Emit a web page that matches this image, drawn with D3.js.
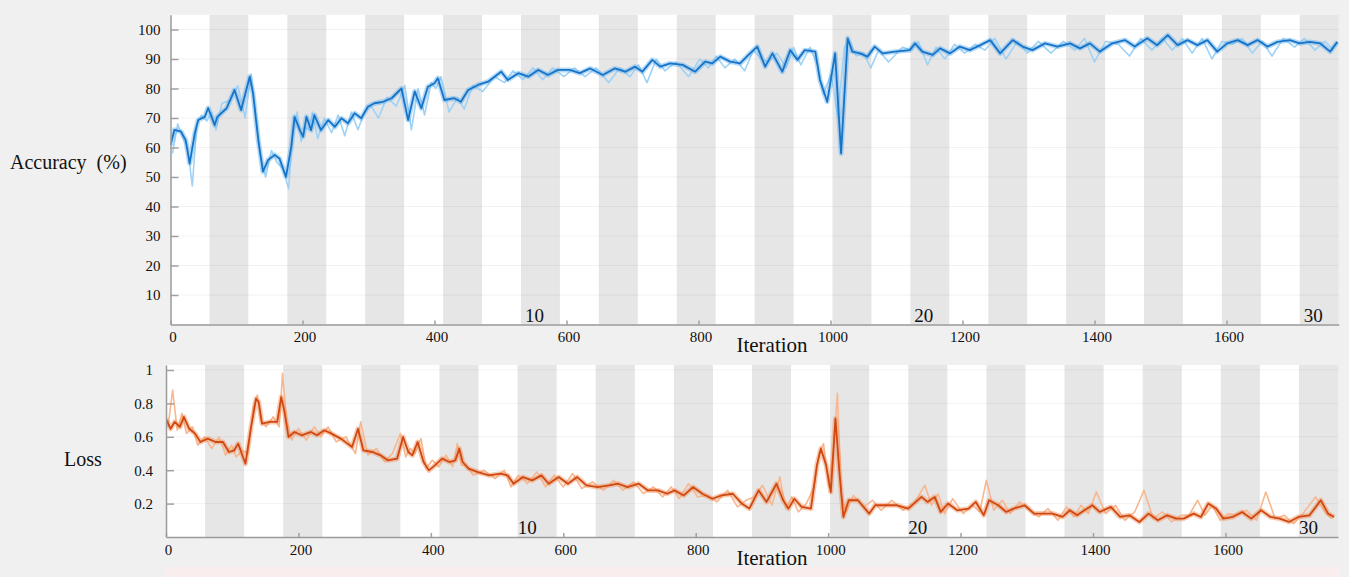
<!DOCTYPE html>
<html>
<head>
<meta charset="utf-8">
<script src="https://cdnjs.cloudflare.com/ajax/libs/d3/7.8.5/d3.min.js"></script>
<style>
  body { margin: 0; background: #f0f0f0; }
  svg { display: block; font-family: "Liberation Serif", "Times New Roman", serif; }
</style>
</head>
<body>
<div id="chart"></div>
<script>
// ---- data ----
const itersPerEpoch = 59;
const epochCount = 30;
const epochLabels = [10, 20, 30];
const iterTicks = [0, 200, 400, 600, 800, 1000, 1200, 1400, 1600];
const accTicks = [10, 20, 30, 40, 50, 60, 70, 80, 90, 100];
const lossTicks = [0.2, 0.4, 0.6, 0.8, 1];

// accuracy, smoothed
const accIter = [
  0, 6, 16, 23, 29, 37, 42, 52, 57, 67,
  71, 85, 97, 107, 120, 125, 133, 140, 148, 158,
  165, 175, 183, 188, 196, 201, 206, 213, 218, 228,
  239, 249, 259, 269, 279, 289, 299, 309, 322, 335,
  350, 360, 370, 380, 390, 400, 405, 415, 430, 440,
  451, 466, 481, 501, 511, 527, 542, 557, 572, 587,
  605, 620, 636, 655, 673, 689, 704, 715, 730, 742,
  757, 776, 795, 810, 821, 833, 848, 863, 878, 889,
  901, 912, 927, 939, 950, 961, 977, 984, 995, 1007,
  1016, 1026, 1033, 1045, 1056, 1067, 1079, 1098, 1120, 1128,
  1139, 1155, 1166, 1181, 1196, 1211, 1227, 1242, 1257, 1276,
  1291, 1306, 1325, 1344, 1363, 1378, 1393, 1408, 1427, 1446,
  1461, 1480, 1495, 1511, 1526, 1541, 1556, 1571, 1586, 1601,
  1617, 1632, 1647, 1662, 1677, 1696, 1711, 1726, 1742, 1757,
  1768
];
const accSmooth = [
  60.8, 66, 65.4, 62.5, 54.6, 65, 69.3, 70.4, 73.4, 67.6,
  70.4, 73.3, 79.5, 72.7, 84, 78.4, 62.5, 51.8, 55.8, 57.5,
  56.3, 50.1, 60.3, 70.4, 65.9, 63.7, 70.4, 65.9, 71, 65.9,
  69.3, 67, 69.9, 68.2, 71.6, 69.9, 73.8, 75, 75.5, 76.7,
  80, 69.3, 79, 73.3, 80.6, 81.8, 83.5, 76.1, 76.7, 75.5,
  79.5, 81.2, 82.3, 85.7, 82.9, 85.2, 84, 86.3, 84.6, 86.3,
  86.3, 85.2, 86.8, 84.6, 86.8, 85.7, 87.4, 85.7, 89.7, 87.4,
  88.5, 88, 85.7, 89.1, 88.5, 90.8, 89.1, 88.5, 91.9, 94.2,
  87.4, 91.9, 85.7, 93, 89.7, 93, 92.5, 82.9, 75.5, 91.9,
  58, 97, 92.5, 91.9, 90.8, 94.2, 91.9, 92.5, 93, 95.3,
  92.5, 91.4, 93.6, 91.9, 94.2, 93, 94.7, 96.4, 91.9, 96.4,
  94.2, 93, 95.3, 94.2, 95.3, 93.6, 95.3, 92.5, 95.3, 96.4,
  94.2, 97, 94.7, 98.1, 94.7, 96.4, 94.7, 96.4, 92.5, 95.3,
  96.4, 94.7, 96.4, 94.2, 95.8, 96.4, 95.3, 95.8, 95.3, 92.5,
  95.8
];

// accuracy, raw mini-batch
const accRawIter = [
  3, 11, 19, 26, 33, 40, 47, 55, 62, 69,
  78, 91, 102, 113, 122, 129, 136, 144, 153, 161,
  170, 179, 185, 192, 198, 203, 209, 215, 223, 233,
  244, 254, 264, 274, 284, 294, 304, 315, 328, 342,
  355, 365, 375, 385, 395, 402, 410, 422, 435, 445,
  458, 473, 491, 506, 519, 534, 549, 564, 579, 596,
  612, 628, 645, 664, 681, 696, 709, 722, 736, 749,
  766, 785, 802, 815, 827, 840, 855, 870, 883, 895,
  906, 919, 933, 944, 955, 969, 980, 989, 1001, 1011,
  1021, 1029, 1039, 1050, 1061, 1073, 1088, 1109, 1124, 1133,
  1147, 1160, 1173, 1188, 1203, 1219, 1234, 1249, 1266, 1283,
  1298, 1315, 1334, 1353, 1370, 1385, 1400, 1417, 1436, 1453,
  1470, 1487, 1503, 1518, 1533, 1548, 1563, 1578, 1593, 1609,
  1624, 1639, 1654, 1669, 1686, 1703, 1718, 1734, 1749, 1762
];
const accRaw = [
  58, 68, 63, 60, 47, 68, 71, 69, 72, 66,
  75, 76, 81, 70, 85, 72, 58, 50, 59, 55,
  53, 46, 64, 72, 62, 67, 66, 72, 63, 70,
  65, 71, 64, 72, 66, 72, 74, 70, 77, 74,
  81, 66, 80, 71, 82, 80, 84, 72, 77, 73,
  81, 79, 84, 82, 86, 83, 87, 83, 87, 84,
  87, 84, 87, 82, 87, 84, 88, 82, 90, 86,
  89, 84, 90, 87, 91, 87, 90, 86, 93, 90,
  89, 92, 87, 94, 88, 94, 88, 78, 85, 70,
  94, 96, 91, 92, 87, 93, 89, 94, 93, 96,
  88, 94, 90, 95, 92, 95, 93, 97, 90, 96,
  92, 96, 92, 96, 93, 97, 89, 96, 95, 91,
  97, 93, 97, 93, 97, 92, 97, 90, 96, 95,
  97, 92, 96, 91, 97, 94, 97, 93, 96, 93
];

// loss, smoothed
const lossIter = [
  0, 7, 13, 21, 27, 35, 44, 52, 63, 75,
  86, 95, 103, 109, 120, 128, 136, 140, 145, 157,
  168, 174, 179, 185, 194, 205, 219, 228, 239, 250,
  264, 281, 290, 298, 312, 324, 335, 349, 358, 366,
  372, 380, 389, 397, 406, 417, 428, 437, 443, 448,
  457, 471, 488, 505, 516, 525, 539, 553, 567, 578,
  593, 607, 621, 635, 652, 669, 683, 697, 714, 728,
  743, 757, 768, 782, 796, 810, 825, 839, 856, 870,
  881, 895, 907, 922, 932, 940, 949, 960, 974, 983,
  989, 997, 1004, 1011, 1017, 1023, 1031, 1045, 1062, 1071,
  1088, 1104, 1121, 1141, 1150, 1161, 1170, 1181, 1195, 1212,
  1223, 1235, 1243, 1257, 1269, 1280, 1297, 1311, 1325, 1339,
  1354, 1365, 1376, 1387, 1399, 1410, 1427, 1441, 1455, 1470,
  1484, 1498, 1512, 1526, 1537, 1552, 1563, 1574, 1586, 1597,
  1611, 1625, 1639, 1654, 1668, 1682, 1696, 1710, 1727, 1744,
  1755, 1764
];
const lossSmooth = [
  0.708, 0.648, 0.689, 0.659, 0.719, 0.648, 0.619, 0.569, 0.589, 0.569,
  0.569, 0.509, 0.519, 0.559, 0.439, 0.648, 0.828, 0.808, 0.679, 0.689,
  0.689, 0.838, 0.749, 0.599, 0.629, 0.609, 0.629, 0.609, 0.639, 0.619,
  0.589, 0.539, 0.648, 0.519, 0.509, 0.489, 0.459, 0.469, 0.599, 0.509,
  0.489, 0.569, 0.449, 0.399, 0.429, 0.469, 0.449, 0.459, 0.529, 0.449,
  0.409, 0.389, 0.369, 0.379, 0.369, 0.319, 0.359, 0.339, 0.369, 0.319,
  0.359, 0.319, 0.359, 0.309, 0.299, 0.309, 0.319, 0.299, 0.319, 0.279,
  0.279, 0.259, 0.279, 0.249, 0.299, 0.259, 0.229, 0.249, 0.259, 0.199,
  0.17, 0.279, 0.21, 0.319, 0.22, 0.17, 0.229, 0.18, 0.17, 0.429,
  0.529, 0.429, 0.269, 0.709, 0.389, 0.12, 0.22, 0.22, 0.14, 0.19,
  0.19, 0.19, 0.17, 0.24, 0.21, 0.24, 0.15, 0.2, 0.16, 0.17,
  0.21, 0.13, 0.22, 0.19, 0.15, 0.17, 0.19, 0.14, 0.14, 0.14,
  0.12, 0.16, 0.13, 0.16, 0.19, 0.15, 0.18, 0.12, 0.13, 0.09,
  0.14, 0.10, 0.13, 0.11, 0.11, 0.14, 0.12, 0.2, 0.17, 0.11,
  0.12, 0.15, 0.11, 0.16, 0.12, 0.11, 0.09, 0.12, 0.13, 0.22,
  0.14, 0.12
];

// loss, raw mini-batch
const lossRawIter = [
  3, 10, 17, 24, 31, 40, 48, 58, 69, 80,
  90, 99, 106, 115, 124, 132, 138, 143, 151, 162,
  171, 176, 182, 190, 200, 212, 224, 234, 245, 257,
  272, 286, 294, 305, 318, 330, 342, 354, 362, 369,
  376, 385, 393, 402, 412, 423, 433, 440, 446, 453,
  464, 480, 497, 511, 521, 532, 546, 560, 573, 586,
  600, 614, 628, 644, 661, 676, 690, 706, 721, 736,
  750, 763, 775, 789, 803, 818, 832, 848, 863, 876,
  888, 901, 915, 927, 936, 945, 955, 967, 979, 986,
  993, 1001, 1008, 1014, 1020, 1027, 1038, 1054, 1067, 1080,
  1096, 1113, 1131, 1146, 1156, 1166, 1176, 1188, 1204, 1218,
  1229, 1239, 1250, 1263, 1275, 1289, 1304, 1318, 1332, 1347,
  1360, 1371, 1382, 1393, 1405, 1419, 1434, 1448, 1463, 1477,
  1491, 1505, 1519, 1532, 1545, 1558, 1569, 1580, 1592, 1604,
  1618, 1632, 1647, 1661, 1675, 1689, 1703, 1719, 1736, 1750,
  1760
];
const lossRaw = [
  0.66, 0.88, 0.64, 0.74, 0.62, 0.66, 0.55, 0.60, 0.53, 0.60,
  0.49, 0.55, 0.48, 0.52, 0.50, 0.78, 0.85, 0.70, 0.66, 0.72,
  0.66, 0.98, 0.70, 0.58, 0.65, 0.58, 0.66, 0.60, 0.66, 0.57,
  0.60, 0.50, 0.69, 0.49, 0.53, 0.45, 0.50, 0.62, 0.48, 0.53,
  0.50, 0.59, 0.41, 0.46, 0.42, 0.49, 0.42, 0.56, 0.43, 0.43,
  0.37, 0.40, 0.35, 0.40, 0.30, 0.37, 0.32, 0.39, 0.30, 0.37,
  0.30, 0.38, 0.29, 0.33, 0.28, 0.34, 0.28, 0.33, 0.26, 0.30,
  0.24, 0.30, 0.23, 0.32, 0.24, 0.25, 0.21, 0.28, 0.18, 0.22,
  0.24, 0.31, 0.19, 0.36, 0.17, 0.24, 0.15, 0.20, 0.30, 0.50,
  0.56, 0.30, 0.52, 0.86, 0.25, 0.15, 0.25, 0.18, 0.22, 0.16,
  0.22, 0.16, 0.21, 0.31, 0.19, 0.26, 0.14, 0.23, 0.14, 0.19,
  0.15, 0.34, 0.16, 0.22, 0.14, 0.21, 0.16, 0.12, 0.17, 0.10,
  0.18, 0.12, 0.19, 0.14, 0.27, 0.14, 0.19, 0.10, 0.15, 0.28,
  0.11, 0.15, 0.09, 0.13, 0.13, 0.22, 0.13, 0.19, 0.10, 0.14,
  0.13, 0.16, 0.10, 0.27, 0.11, 0.13, 0.08, 0.15, 0.24, 0.15,
  0.11
];

// ---- layout ----
const width = 1349, height = 577;
const totalIter = itersPerEpoch * epochCount;

const svg = d3.select("#chart").append("svg")
  .attr("width", width)
  .attr("height", height);

svg.append("rect")
  .attr("width", width).attr("height", height)
  .attr("fill", "#f0f0f0");

// faint pink strip under the lower panel
svg.append("rect")
  .attr("x", 165).attr("y", 567).attr("width", 1175).attr("height", 10)
  .attr("fill", "#f9eded");

const zip = (xs, ys) => xs.map((x, i) => ({ it: x, v: ys[i] }));

const panels = [
  {
    key: "acc",
    x: d3.scaleLinear().domain([0, totalIter]).range([170.5, 1338.7]),
    y: d3.scaleLinear().domain([0, 105]).range([324.5, 14.75]),
    ticks: accTicks,
    fmt: d3.format("d"),
    pad: 10,
    smooth: zip(accIter, accSmooth),
    raw: zip(accRawIter, accRaw),
    colRaw: "#9fd2f5", colHalo: "#5aaeee", colCore: "#1673c8",
    title: "Accuracy  (%)", titleX: 10, titleY: 169,
    iterY: 352, epochDx: -6
  },
  {
    key: "loss",
    x: d3.scaleLinear().domain([0, totalIter]).range([166, 1338]),
    y: d3.scaleLinear().domain([0, 1.03]).range([537, 365]),
    ticks: lossTicks,
    fmt: (d) => d === 1 ? "1" : d3.format(".1f")(d),
    pad: 13,
    smooth: zip(lossIter, lossSmooth),
    raw: zip(lossRawIter, lossRaw),
    colRaw: "#f7b891", colHalo: "#f28a50", colCore: "#cf4812",
    title: "Loss", titleX: 64, titleY: 466,
    iterY: 565, epochDx: -10
  }
];

panels.forEach((p) => {
  const [x0, x1] = p.x.range();
  const [y0, y1] = p.y.range();
  const g = svg.append("g").attr("class", p.key);

  // plot area
  g.append("rect")
    .attr("x", x0).attr("y", y1)
    .attr("width", x1 - x0).attr("height", y0 - y1)
    .attr("fill", "#ffffff");

  // alternating epoch bands
  g.append("g")
    .selectAll("rect")
    .data(d3.range(1, epochCount + 1).filter((e) => e % 2 === 0))
    .join("rect")
      .attr("x", (e) => p.x((e - 1) * itersPerEpoch))
      .attr("y", y1)
      .attr("width", (e) => p.x(e * itersPerEpoch) - p.x((e - 1) * itersPerEpoch))
      .attr("height", y0 - y1)
      .attr("fill", "#e6e6e6");

  // horizontal grid
  g.append("g")
    .selectAll("line")
    .data(p.ticks)
    .join("line")
      .attr("x1", x0).attr("x2", x1)
      .attr("y1", (d) => p.y(d)).attr("y2", (d) => p.y(d))
      .attr("stroke", "#000").attr("stroke-opacity", 0.05);

  // lines
  const clipId = "clip-" + p.key;
  g.append("clipPath").attr("id", clipId)
    .append("rect")
      .attr("x", x0).attr("y", y1)
      .attr("width", x1 - x0).attr("height", y0 - y1);

  const line = d3.line().x((d) => p.x(d.it)).y((d) => p.y(d.v));
  const lines = g.append("g").attr("clip-path", `url(#${clipId})`)
    .attr("fill", "none").attr("stroke-linejoin", "round");

  lines.append("path").datum(p.raw)
    .attr("d", line).attr("stroke", p.colRaw).attr("stroke-width", 1.6);
  lines.append("path").datum(p.smooth)
    .attr("d", line).attr("stroke", p.colHalo).attr("stroke-width", 5)
    .attr("stroke-opacity", 0.45);
  lines.append("path").datum(p.smooth)
    .attr("d", line).attr("stroke", p.colCore).attr("stroke-width", 1.8);

  // axes
  const yAxis = g.append("g")
    .attr("transform", `translate(${x0},0)`)
    .call(d3.axisLeft(p.y).tickValues(p.ticks).tickFormat(p.fmt)
      .tickSizeInner(-8).tickSizeOuter(0).tickPadding(p.pad));
  const xAxis = g.append("g")
    .attr("transform", `translate(0,${y0})`)
    .call(d3.axisBottom(p.x).tickValues(iterTicks).tickFormat(d3.format("d"))
      .tickSizeInner(-4).tickSizeOuter(0).tickPadding(7));

  [yAxis, xAxis].forEach((a) => {
    a.select(".domain").attr("stroke", "#9a9a9a").attr("stroke-width", 1.5);
    a.selectAll(".tick line").attr("stroke", "#a0a0a0").attr("stroke-width", 1.5);
    a.selectAll("text")
      .attr("fill", "#111")
      .style("font-family", "'Liberation Serif', serif")
      .style("font-size", "15px");
  });
  xAxis.selectAll(".tick text").attr("dx", 2);

  // epoch labels
  g.append("g")
    .selectAll("text")
    .data(epochLabels)
    .join("text")
      .attr("x", (e) => p.x((e - 0.5) * itersPerEpoch))
      .attr("dx", p.epochDx)
      .attr("y", y0 - 3)
      .attr("text-anchor", "middle")
      .style("font-size", "19px")
      .attr("fill", "#111")
      .text((e) => e);

  // titles
  g.append("text")
    .attr("x", p.titleX).attr("y", p.titleY)
    .style("font-size", "20px")
    .style("white-space", "pre")
    .attr("fill", "#111")
    .text(p.title);

  g.append("text")
    .attr("x", 772).attr("y", p.iterY)
    .attr("text-anchor", "middle")
    .style("font-size", "21px")
    .attr("fill", "#111")
    .text("Iteration");
});
</script>
</body>
</html>
